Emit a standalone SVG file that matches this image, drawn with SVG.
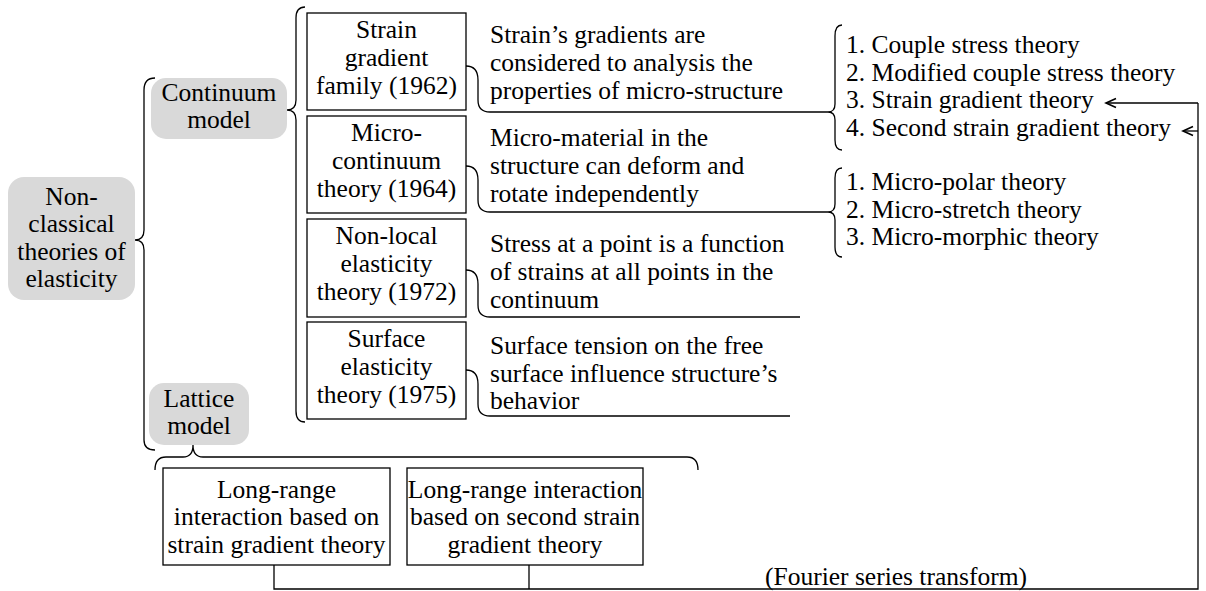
<svg xmlns="http://www.w3.org/2000/svg" width="1206" height="591" viewBox="0 0 1206 591">
<defs>
<style>
text{font-family:'Liberation Serif','Times New Roman',serif;font-size:25.5px;fill:#000}
.c{text-anchor:middle}
.grey{fill:#d9d9d9;stroke:none}
.box{fill:#fff;stroke:#000;stroke-width:1.3}
.ln{fill:none;stroke:#000;stroke-width:1.3}
</style>
<marker id="arr" markerWidth="14" markerHeight="12" refX="11" refY="6" orient="auto" markerUnits="userSpaceOnUse"><path d="M1,1.5 L11,6 L1,10.5" fill="none" stroke="#000" stroke-width="1.6"/></marker>
</defs>
<rect width="1206" height="591" fill="#fff"/>

<g id="connectors">
<path class="ln" d="M155,78 Q144,78 144,90 L144,230 Q144,240 135,240 Q144,240 144,250 L144,440 Q144,450 155,450"/>
<path class="ln" d="M305,7 Q296,7 296,18 L296,100 Q296,110 287,110 Q296,110 296,120 L296,411 Q296,422 305,422"/>
<path class="ln" d="M842,25 Q835,25 835,36 L835,104 Q835,112 828,112 Q835,112 835,120 L835,140 Q835,150 842,150"/>
<path class="ln" d="M842,168 Q835,168 835,178 L835,204 Q835,212 828,212 Q835,212 835,220 L835,247 Q835,257 842,257"/>
<path class="ln" d="M155,470 Q155,457 166,457 L183,457 Q193,457 193,445 Q193,457 203,457 L687,457 Q698,457 698,470"/>
<path class="ln" d="M466,66 Q478,66 478,80 L478,100 Q478,112 490,112 L828,112"/>
<path class="ln" d="M466,166 Q478,166 478,180 L478,200 Q478,212 490,212 L828,212"/>
<path class="ln" d="M466,270 Q478,270 478,284 L478,305 Q478,317 490,317 L800,317"/>
<path class="ln" d="M466,370 Q478,370 478,384 L478,404 Q478,416 490,416 L790,416"/>
<path class="ln" d="M274,565 L274,589 L1198,589 L1198,103"/>
<path class="ln" d="M529,565 L529,589"/>
<path class="ln" d="M1198,103 L1106,103" marker-end="url(#arr)"/>
<path class="ln" d="M1198,131 L1183,131" marker-end="url(#arr)"/>
</g>

<g id="non-classical">
<rect class="grey" x="8" y="177" width="127" height="123" rx="16"/>
<text class="c" x="71.5" y="205">Non-</text>
<text class="c" x="71.5" y="232">classical</text>
<text class="c" x="71.5" y="260">theories of</text>
<text class="c" x="71.5" y="287">elasticity</text>
</g>

<g id="continuum">
<rect class="grey" x="151" y="78" width="136" height="61" rx="15"/>
<text class="c" x="219" y="101">Continuum</text>
<text class="c" x="219" y="128">model</text>
</g>

<g id="lattice">
<rect class="grey" x="149" y="383" width="100" height="62" rx="15"/>
<text class="c" x="199" y="407">Lattice</text>
<text class="c" x="199" y="434">model</text>
</g>

<g id="strain-gradient">
<rect class="box" x="307" y="13" width="159" height="97"/>
<text class="c" x="386.5" y="38">Strain</text>
<text class="c" x="386.5" y="66">gradient</text>
<text class="c" x="386.5" y="94">family (1962)</text>
<text x="490" y="43">Strain’s gradients are</text>
<text x="490" y="71">considered to analysis the</text>
<text x="490" y="99">properties of micro-structure</text>
</g>

<g id="micro-continuum">
<rect class="box" x="307" y="116" width="159" height="97"/>
<text class="c" x="386.5" y="141">Micro-</text>
<text class="c" x="386.5" y="169">continuum</text>
<text class="c" x="386.5" y="197">theory (1964)</text>
<text x="490" y="146">Micro-material in the</text>
<text x="490" y="174">structure can deform and</text>
<text x="490" y="202">rotate independently</text>
</g>

<g id="non-local">
<rect class="box" x="307" y="219" width="159" height="98"/>
<text class="c" x="386.5" y="244">Non-local</text>
<text class="c" x="386.5" y="272">elasticity</text>
<text class="c" x="386.5" y="300">theory (1972)</text>
<text x="490" y="252">Stress at a point is a function</text>
<text x="490" y="280">of strains at all points in the</text>
<text x="490" y="308">continuum</text>
</g>

<g id="surface">
<rect class="box" x="307" y="322" width="159" height="97"/>
<text class="c" x="386.5" y="347">Surface</text>
<text class="c" x="386.5" y="375">elasticity</text>
<text class="c" x="386.5" y="403">theory (1975)</text>
<text x="490" y="354">Surface tension on the free</text>
<text x="490" y="382">surface influence structure’s</text>
<text x="490" y="409">behavior</text>
</g>

<g id="list-strain">
<text x="846" y="53">1. Couple stress theory</text>
<text x="846" y="81">2. Modified couple stress theory</text>
<text x="846" y="108">3. Strain gradient theory</text>
<text x="846" y="136">4. Second strain gradient theory</text>
</g>

<g id="list-micro">
<text x="846" y="190">1. Micro-polar theory</text>
<text x="846" y="218">2. Micro-stretch theory</text>
<text x="846" y="245">3. Micro-morphic theory</text>
</g>

<g id="long-range-1">
<rect class="box" x="163" y="468" width="227" height="97"/>
<text class="c" x="276.5" y="498">Long-range</text>
<text class="c" x="276.5" y="525">interaction based on</text>
<text class="c" x="276.5" y="553">strain gradient theory</text>
</g>

<g id="long-range-2">
<rect class="box" x="407" y="468" width="236" height="97"/>
<text class="c" x="525" y="498">Long-range interaction</text>
<text class="c" x="525" y="525">based on second strain</text>
<text class="c" x="525" y="553">gradient theory</text>
</g>

<g id="fourier">
<text x="765" y="585">(Fourier series transform)</text>
</g>
</svg>
